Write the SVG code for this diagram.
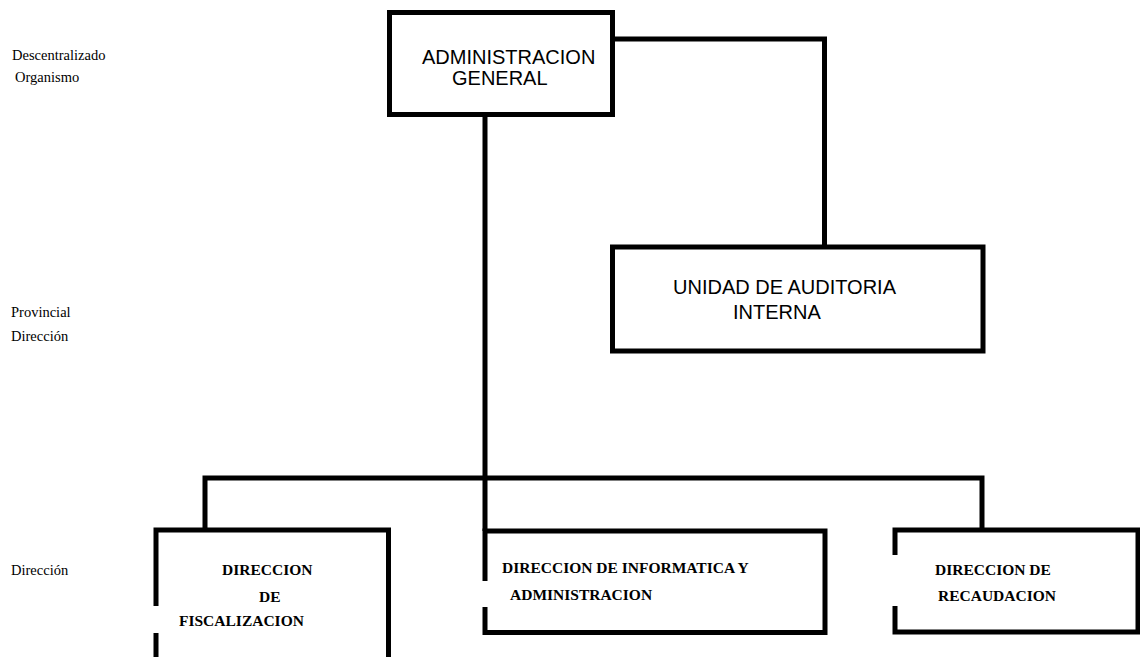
<svg xmlns="http://www.w3.org/2000/svg" width="1140" height="657" viewBox="0 0 1140 657">
<style>
.ln{fill:none;stroke:#000;stroke-width:5;stroke-linejoin:miter;stroke-linecap:butt}
.box{fill:#fff;stroke:#000;stroke-width:5}
.sans{font-family:"Liberation Sans",Arial,sans-serif;font-size:20px;fill:#000}
.bold{font-family:"Liberation Serif","Times New Roman",serif;font-size:15.5px;font-weight:bold;fill:#000}
.lbl{font-family:"Liberation Serif","Times New Roman",serif;font-size:14.5px;fill:#000}
</style>
<rect width="1140" height="657" fill="#fff"/>
<g id="levels">
<text class="lbl" x="12" y="60">Descentralizado</text>
<text class="lbl" x="15" y="82">Organismo</text>
<text class="lbl" x="11" y="317">Provincial</text>
<text class="lbl" x="11" y="341">Dirección</text>
<text class="lbl" x="11" y="575">Dirección</text>
</g>
<g id="connectors">
<path class="ln" d="M612,39 H824.5 V247"/>
<path class="ln" d="M485,115 V531"/>
<path class="ln" d="M205,530 V478 H982 V530"/>
</g>
<g id="admin-general">
<rect class="box" x="389.5" y="12.5" width="223" height="102"/>
<text class="sans" x="422" y="64">ADMINISTRACION</text>
<text class="sans" x="452" y="85">GENERAL</text>
</g>
<g id="auditoria">
<rect class="box" x="612.5" y="247" width="370.5" height="104"/>
<text class="sans" x="673" y="294">UNIDAD DE AUDITORIA</text>
<text class="sans" x="733" y="319">INTERNA</text>
</g>
<g id="fiscalizacion">
<path class="ln" d="M156,606 V530 H388.5 V660 M156,633 V660"/>
<text class="bold" x="222" y="575">DIRECCION</text>
<text class="bold" x="259" y="602">DE</text>
<text class="bold" x="179" y="626">FISCALIZACION</text>
</g>
<g id="informatica">
<path class="ln" d="M485,581 V531 H825 V632.5 H485 V607"/>
<text class="bold" x="502" y="573">DIRECCION DE INFORMATICA Y</text>
<text class="bold" x="510" y="600">ADMINISTRACION</text>
</g>
<g id="recaudacion">
<path class="ln" d="M895,555 V530 H1138 V632 H895 V606"/>
<text class="bold" x="935" y="575">DIRECCION DE</text>
<text class="bold" x="938" y="601">RECAUDACION</text>
</g>
</svg>
